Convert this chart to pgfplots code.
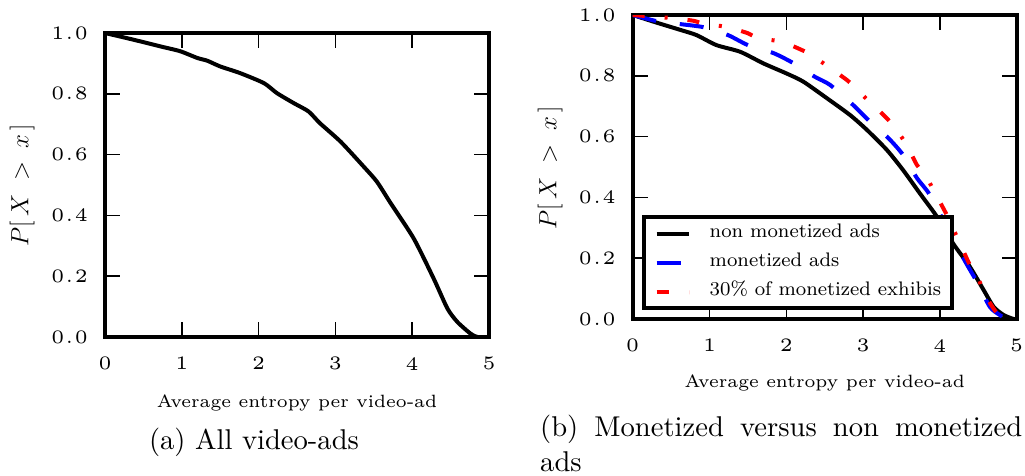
\documentclass[border=0pt]{standalone}
\usepackage{pgfplots}
\pgfplotsset{compat=1.18}
\DeclareFontFamily{TU}{lmrfive}{}
\DeclareFontShape{TU}{lmrfive}{m}{n}{<-> "[lmroman5-regular]:mapping=tex-text;"}{}
\DeclareFontFamily{TU}{lmrsix}{}
\DeclareFontShape{TU}{lmrsix}{m}{n}{<-> "[lmroman6-regular]:mapping=tex-text;"}{}
\DeclareFontFamily{TU}{lmreight}{}
\DeclareFontShape{TU}{lmreight}{m}{n}{<-> "[lmroman8-regular]:mapping=tex-text;"}{}
\DeclareFontFamily{TU}{lmrten}{}
\DeclareFontShape{TU}{lmrten}{m}{n}{<-> "[lmroman10-regular]:mapping=tex-text;"}{}
\newcommand\tkf{\fontfamily{lmrfive}\fontsize{19}{22}\selectfont}
\newcommand\lbf{\fontfamily{lmrsix}\fontsize{17.8}{21}\selectfont}
\newcommand\lgf{\fontfamily{lmreight}\fontsize{19.6}{23}\selectfont}
\newcommand\cpf{\fontfamily{lmrten}\fontsize{28.6}{34.5}\selectfont}
\newcommand\dt{\kern1.5pt.\kern1.5pt}

\pgfplotstableread{
x y
0 1
0.37 0.978
0.72 0.956
0.98 0.940
1.2 0.918
1.33 0.909
1.5 0.89
1.76 0.868
2.07 0.835
2.24 0.802
2.46 0.769
2.65 0.742
2.80 0.703
3.07 0.642
3.37 0.56
3.54 0.511
3.72 0.44
4.02 0.324
4.28 0.192
4.46 0.093
4.59 0.049
4.76 0.011
4.85 0
5.0 0
}\allads
\pgfplotstableread{
x y
0 1
0.31 0.975
0.62 0.951
0.83 0.934
1.09 0.901
1.40 0.879
1.70 0.841
2.0 0.808
2.22 0.781
2.53 0.726
2.83 0.671
3.05 0.622
3.31 0.556
3.52 0.49
3.74 0.413
3.96 0.337
4.17 0.249
4.39 0.172
4.57 0.095
4.70 0.04
4.83 0.013
4.96 0
5.0 0
}\nonmon
\pgfplotstableread{
x y
0 1
0.31 0.980
0.62 0.970
0.92 0.960
1.24 0.934
1.5 0.901
1.83 0.875
2.09 0.842
2.37 0.797
2.57 0.77
2.87 0.704
3.09 0.649
3.33 0.595
3.52 0.54
3.70 0.464
3.87 0.408
4.13 0.283
4.33 0.189
4.48 0.123
4.65 0.04
4.78 0.013
4.87 0
}\mon
\pgfplotstableread{
x y
0 1
0.5 0.99
0.79 0.981
0.94 0.970
1.22 0.961
1.5 0.94
1.63 0.924
1.94 0.912
2.2 0.885
2.33 0.868
2.79 0.786
2.89 0.76
3.11 0.709
3.31 0.66
3.42 0.627
3.57 0.572
3.70 0.507
3.81 0.474
3.94 0.413
4.09 0.342
4.26 0.249
4.39 0.178
4.48 0.145
4.59 0.079
4.74 0.02
4.85 0.003
4.9 0
}\thirty

\pgfplotsset{
  myax/.style={
    scale only axis, width=384pt, height=304pt,
    xmin=0, xmax=5, ymin=0, ymax=1,
    axis line style={line width=4pt},
    tick style={line width=1.6pt, black},
    major tick length=15pt, tick align=inside,
    xtick={0,1,2,3,4,5}, ytick={0,0.2,0.4,0.6,0.8,1},
    xticklabels={0,1,2,3,4,5},
    yticklabels={0\dt0,0\dt2,0\dt4,0\dt6,0\dt8,1\dt0},
    xticklabel style={font=\tkf, inner sep=0pt, yshift=-20pt},
    yticklabel style={font=\tkf, inner sep=0pt, xshift=-17pt},
    xlabel={Average entropy per video-ad},
    ylabel={$P[\,X\;>\;x\,]$},
    xlabel style={font=\lbf, anchor=center},
    ylabel style={font=\fontsize{26}{30}\selectfont, anchor=center},
  }
}

\begin{document}
\begin{tikzpicture}
\useasboundingbox (0pt,0pt) rectangle (1025pt,475pt);
\begin{axis}[myax, at={(105pt,138pt)}, anchor=south west,
  xlabel style={at={(axis description cs:0.5,-0.216)}},
  ylabel style={at={(axis description cs:-0.216,0.5)}}]
\addplot[black, line width=4pt, smooth, tension=0.4] table[x=x,y=y] {\allads};
\end{axis}
\begin{axis}[myax, at={(632.7pt,156pt)}, anchor=south west,
  xlabel style={at={(axis description cs:0.5,-0.212)}},
  ylabel style={at={(axis description cs:-0.215,0.497)}},
  legend style={at={(0.0235,0.030)}, anchor=south west,
    draw=black, line width=4pt, fill=white,
    inner xsep=11pt, inner ysep=7pt,
    font=\lgf, row sep=10pt,
    nodes={inner sep=0pt, text height=14pt, text depth=5pt},
    /tikz/every odd column/.append style={column sep=19pt}},
  legend cell align=left,
  legend image code/.code={\draw[#1] (0pt,-1pt) -- (32pt,-1pt);}]
\addplot[black, line width=4pt, smooth, tension=0.4] table[x=x,y=y] {\nonmon};
\addplot[blue, line width=4pt, dash pattern=on 24pt off 24pt, smooth, tension=0.4] table[x=x,y=y] {\mon};
\addplot[red, line width=4pt, dash pattern=on 12pt off 20pt on 3pt off 20pt, smooth, tension=0.4] table[x=x,y=y] {\thirty};
\legend{non monetized ads, monetized ads, 30\% of monetized exhibis}
\end{axis}
\node[font=\cpf, inner sep=0pt] at (254pt,33pt) {(a) All video-ads};
\node[font=\cpf, inner sep=0pt, anchor=north west, text width=482pt, align=justify] at (540pt,60pt)
  {\noindent\hyphenpenalty=10000\tolerance=9999 (b) Monetized versus non monetized ads};
\end{tikzpicture}
\end{document}
